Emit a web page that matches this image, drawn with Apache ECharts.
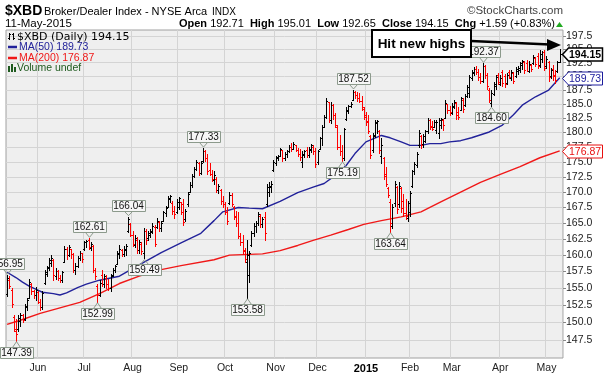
<!DOCTYPE html>
<html>
<head>
<meta charset="utf-8">
<script src="https://cdn.jsdelivr.net/npm/echarts@6/dist/echarts.min.js"></script>
<style>
html, body { margin: 0; padding: 0; background: #fff; }
#chart { width: 604px; height: 376px; }
</style>
</head>
<body>
<div id="chart"></div>
<script>
// daily bars, 12-May-2014 .. 11-May-2015 (252 sessions)
var opens = [
  154.2,156.3,154.8,150.8,148.8,149.0,150.2,151.0,150.5,152.3,
  153.6,155.6,154.6,154.0,154.4,153.0,152.3,155.8,157.2,158.0,
  158.8,159.2,156.8,157.6,156.6,156.2,159.0,161.0,160.0,161.0,
  160.2,157.8,158.4,159.6,160.4,161.0,162.0,162.3,161.1,161.4,
  157.8,155.4,154.0,157.0,155.6,156.6,155.6,155.0,157.0,157.8,
  158.6,160.2,160.8,160.2,160.8,163.8,164.8,163.2,161.6,162.4,
  160.8,161.8,160.4,163.8,162.6,163.2,163.6,164.4,164.4,165.2,
  164.2,165.4,166.6,167.6,168.8,168.3,167.0,166.8,167.6,168.4,
  168.0,165.6,168.0,170.0,171.2,172.6,173.8,174.8,173.2,175.2,
  176.8,175.6,173.6,173.0,172.0,172.2,170.4,170.4,168.6,168.0,
  166.8,168.2,169.6,167.6,166.2,165.0,163.0,162.0,160.8,159.0,
  157.0,161.6,163.4,164.6,165.0,166.2,164.8,166.0,168.0,170.0,
  170.8,173.6,174.8,175.6,176.0,177.0,175.6,176.4,176.8,177.6,
  177.2,177.8,177.0,176.4,175.0,176.2,177.0,176.2,177.0,177.6,
  176.8,175.0,177.2,179.0,181.0,182.8,185.4,182.2,184.8,183.0,
  181.0,177.6,176.8,175.6,182.4,183.8,184.6,185.8,187.2,186.6,
  186.0,185.6,184.2,183.0,182.0,179.4,177.0,179.6,181.6,180.2,
  176.0,175.6,173.0,170.6,168.4,164.6,168.2,170.8,168.0,170.6,
  168.6,166.6,165.8,166.8,171.0,173.4,174.4,177.8,179.4,178.0,
  178.6,180.2,182.2,181.2,181.0,180.4,180.0,181.4,182.2,182.6,
  185.0,184.0,183.4,184.4,185.2,183.6,184.0,185.8,184.8,186.4,
  187.0,189.6,190.6,191.4,190.8,189.8,189.2,191.8,190.2,187.6,
  185.2,186.8,188.2,190.2,188.6,190.8,190.0,188.8,190.8,189.6,
  190.6,190.0,191.0,191.2,192.0,192.6,192.4,191.0,192.0,192.4,
  193.4,193.8,192.0,193.2,194.4,191.8,192.6,190.0,191.4,190.2,
  191.0,192.71
];
var highs = [
  156.95,156.8,155.0,151.0,150.5,151.1,151.4,151.2,152.6,153.6,
  156.4,155.8,154.8,155.2,154.6,153.4,154.6,157.8,158.4,159.6,
  160.0,159.4,158.0,157.8,157.0,157.6,161.4,161.2,161.5,161.0,
  160.4,158.8,159.8,160.6,160.4,162.2,162.4,162.61,162.0,161.5,
  158.0,155.6,156.2,157.7,157.2,157.0,156.4,157.2,158.0,158.5,
  160.7,161.5,161.0,161.4,161.8,166.04,165.0,163.7,163.2,162.8,
  162.4,162.0,164.2,164.0,163.8,164.0,165.0,164.7,165.8,165.4,
  165.4,167.0,167.8,169.4,169.6,168.6,167.8,168.8,169.2,168.4,
  168.9,167.3,170.0,171.6,172.9,174.2,175.4,175.0,175.2,177.33,
  177.0,176.4,174.8,173.7,173.4,172.4,171.4,170.5,169.4,168.4,
  167.6,170.0,169.8,167.8,167.0,166.8,163.4,163.1,161.1,162.3,
  160.7,163.7,165.0,165.3,166.8,166.4,166.0,166.8,171.3,171.6,
  171.8,175.4,176.0,176.2,177.4,177.0,176.6,177.0,177.9,178.2,
  178.4,177.9,177.4,177.1,176.8,177.0,177.6,177.6,178.0,177.8,
  177.4,177.0,179.3,181.3,183.1,186.1,185.4,185.3,185.0,183.4,
  181.3,179.6,177.9,180.8,184.4,184.8,185.3,187.52,187.4,187.2,
  187.0,186.4,184.4,183.6,183.0,179.6,179.9,182.2,182.2,180.5,
  179.0,175.9,174.2,170.9,168.9,168.0,171.8,171.0,171.6,170.8,
  169.7,168.9,168.6,170.2,173.7,174.9,176.7,180.5,179.6,179.8,
  180.5,182.5,182.4,182.0,182.2,182.2,182.5,182.6,182.4,185.7,
  185.0,184.6,185.2,185.7,185.4,184.4,186.3,186.0,186.8,188.4,
  190.2,191.2,191.7,191.8,191.4,190.6,192.37,192.0,190.6,187.8,
  187.5,188.9,190.2,190.6,190.2,191.2,190.4,190.6,191.2,191.2,
  190.8,191.7,191.8,192.6,193.0,192.8,193.0,192.8,192.2,193.9,
  193.6,194.3,194.9,194.6,194.9,193.8,192.8,191.6,192.0,191.2,
  192.8,195.01
];
var lows = [
  153.8,155.0,152.3,148.7,147.39,148.7,149.5,150.0,150.4,151.8,
  153.5,154.2,153.6,153.2,152.8,151.8,152.0,155.6,156.8,157.8,
  158.4,156.3,156.4,156.2,155.9,156.0,158.9,159.4,159.8,159.6,
  157.4,157.2,158.2,159.2,159.0,160.8,161.2,160.9,160.8,157.4,
  156.4,152.99,153.8,155.4,155.2,155.0,154.7,154.6,156.8,157.5,
  158.6,159.6,159.8,159.8,160.0,163.6,162.9,161.4,161.2,160.4,
  160.4,160.2,159.49,161.8,162.4,162.8,163.4,161.4,164.2,163.8,
  163.8,165.3,166.2,167.6,168.4,166.5,165.8,166.6,167.2,166.4,
  164.7,165.3,167.8,170.0,170.9,172.4,173.6,172.8,173.0,175.0,
  175.2,172.9,172.8,171.8,171.4,170.0,169.8,168.1,167.6,166.5,
  164.8,168.1,167.8,165.7,164.5,162.6,161.6,160.2,158.9,153.58,
  156.0,161.4,163.0,163.6,164.7,164.4,164.4,162.3,167.8,169.4,
  170.0,173.5,174.4,175.4,176.0,175.2,175.4,175.8,176.6,176.8,
  177.2,176.8,176.0,175.4,174.2,175.8,175.8,175.8,176.6,176.4,
  174.2,174.6,177.1,177.9,180.9,182.6,181.8,181.7,182.4,181.0,
  177.1,176.2,175.19,175.4,182.2,183.4,184.4,185.7,186.0,185.6,
  185.3,184.0,182.4,181.4,179.9,175.7,176.7,179.3,180.0,176.5,
  174.8,172.1,171.0,169.2,163.64,164.2,167.8,166.6,167.6,166.8,
  166.1,165.7,165.4,166.2,170.9,172.9,174.2,177.6,177.4,177.6,
  178.4,180.0,180.6,180.4,181.0,180.0,179.1,180.8,180.4,182.5,
  183.4,183.0,183.2,184.3,182.4,182.4,183.9,183.6,184.6,186.2,
  186.3,189.3,190.2,190.4,189.4,188.8,189.0,189.6,187.7,185.3,
  184.60,186.6,187.7,188.6,188.4,188.2,188.0,188.6,189.6,189.4,
  188.8,189.8,190.4,190.8,191.4,190.6,190.9,190.8,191.0,192.2,
  191.8,191.5,191.7,192.6,191.2,191.6,189.2,189.6,189.4,188.8,
  190.8,192.65
];
var closes = [
  156.5,155.4,152.6,149.0,148.4,150.6,151.0,150.4,152.4,153.2,
  156.0,154.6,154.0,154.8,153.0,152.2,154.3,157.4,158.2,159.2,
  159.6,157.0,157.6,156.6,156.3,157.4,161.0,160.0,161.2,160.2,
  157.8,158.4,159.6,160.4,159.4,162.0,162.2,161.2,161.8,157.8,
  156.8,154.0,155.8,155.6,156.8,155.6,155.0,156.9,157.8,158.3,
  160.4,161.0,160.2,161.0,161.4,165.6,163.2,161.8,162.6,160.8,
  162.0,160.6,163.8,162.4,163.4,163.8,164.6,161.8,165.4,164.2,
  165.0,166.8,167.4,169.0,169.3,167.0,166.4,168.4,169.0,166.8,
  165.2,166.9,169.7,171.2,172.6,173.8,175.0,173.2,174.8,176.8,
  175.6,173.4,173.0,172.2,172.8,170.4,171.0,168.6,168.0,166.8,
  165.4,169.6,168.0,166.0,165.0,163.0,162.0,160.6,159.4,160.0,
  160.4,163.4,164.6,165.0,166.4,164.8,165.6,163.4,170.8,171.0,
  171.4,175.0,175.8,176.0,177.2,175.6,176.4,176.8,177.6,177.2,
  178.0,177.0,176.4,175.8,176.4,176.8,176.2,177.2,177.8,176.8,
  174.6,176.8,179.0,181.0,182.8,185.6,182.2,184.8,183.0,181.4,
  177.6,176.8,175.6,180.6,184.0,184.6,185.0,187.2,186.6,186.0,
  185.6,184.4,182.8,181.8,180.2,176.2,179.4,181.8,182.0,177.0,
  177.8,172.6,171.4,169.6,165.0,167.6,171.4,167.2,171.0,167.4,
  166.6,166.2,168.2,169.8,173.4,174.6,176.4,180.0,177.8,179.4,
  180.2,182.2,181.0,180.6,181.8,181.9,182.2,182.4,181.4,185.2,
  184.0,183.6,184.6,185.4,183.0,182.8,186.0,184.2,186.4,188.0,
  189.8,190.8,191.4,190.8,189.8,189.2,191.8,190.2,188.2,185.8,
  187.0,188.6,189.8,189.0,189.6,188.8,188.6,190.2,189.8,190.8,
  189.2,191.4,191.6,192.4,192.8,191.2,191.0,192.2,191.4,193.6,
  192.2,191.8,194.2,194.4,191.6,193.2,189.8,191.2,190.0,189.4,
  192.56,194.15
];

// moving averages (bar index, value)
var ma50Idx = [0,4,7,10,14,16,21,24,27,32,36,42,51,60,70,79,88,94,98,105,110,116,124,132,139,144,150,154,158,163,170,174,179,183,188,192,197,201,206,211,219,225,230,234,240,246,251];
var ma50Val = [157.4,156.6,155.9,155.3,154.7,154.4,154.2,154.0,154.3,155.1,155.6,156.2,156.8,158.5,160.4,161.9,163.4,165.4,166.8,167.5,167.4,167.3,168.5,169.9,170.8,171.4,173.0,174.4,176.4,178.4,179.5,179.1,178.4,177.8,177.8,178.1,178.1,178.4,178.6,179.1,180.1,181.3,183.1,184.8,186.3,187.5,189.73];
var ma200Idx = [0,6,15,24,33,42,51,60,70,79,94,101,116,124,132,139,147,155,162,170,179,188,197,206,215,224,233,242,251];
var ma200Val = [149.7,150.3,151.3,152.1,152.9,154.2,155.7,156.8,157.8,158.4,159.3,160.0,160.2,160.7,161.5,162.3,163.1,164.0,164.8,165.4,166.0,166.8,168.4,170.0,171.6,172.9,174.2,175.7,176.87];

// month labels: first session of each month
var monthIdx = [14,35,57,78,99,122,141,163,183,202,224,245];
var monthLbl = ['Jun','Jul','Aug','Sep','Oct','Nov','Dec','2015','Feb','Mar','Apr','May'];

// price axis ticks
var priceTicks = [147.5,150,152.5,155,157.5,160,162.5,165,167.5,170,172.5,175,177.5,180,182.5,185,187.5,190,192.5,195,197.5];

// peak / trough callouts
var noteIdx = [0,4,37,41,55,62,89,109,152,157,174,216,220];
var noteVal = [156.95,147.39,162.61,152.99,166.04,159.49,177.33,153.58,175.19,187.52,163.64,192.37,184.60];
var noteSide = ['up','down','up','down','up','down','up','down','down','up','down','up','down'];

// last-value tags on the right
var tagVal = [194.15,189.73,176.87];
var tagColor = ['#000000','#1c1c9c','#e81010'];

var FONT = '"Liberation Sans", Arial, sans-serif';
var RED = '#ff0000';
var BLACK = '#000000';
var slots = 253; // one empty slot of right padding

var chart = echarts.init(document.getElementById('chart'));

var cats = [];
for (var s = 0; s < slots; s++) cats.push(String(s));

var bars = [];
for (var i = 0; i < closes.length; i++) {
  bars.push([i, opens[i], highs[i], lows[i], closes[i]]);
}
var ma50 = ma50Idx.map(function (d, k) { return [d, ma50Val[k]]; });
var ma200 = ma200Idx.map(function (d, k) { return [d, ma200Val[k]]; });
var notes = noteIdx.map(function (d, k) { return [d, noteVal[k]]; });
var tags = tagVal.map(function (v) { return [closes.length - 1, v]; });

function isMonth(index) {
  return monthIdx.indexOf(index) >= 0;
}

// OHLC bar: high-low line, open tick left, close tick right
function renderBar(params, api) {
  var i = api.value(0);
  var pO = api.coord([i, api.value(1)]);
  var pH = api.coord([i, api.value(2)]);
  var pL = api.coord([i, api.value(3)]);
  var pC = api.coord([i, api.value(4)]);
  var x = Math.round(pO[0]) + 0.5;
  var yo = Math.round(pO[1]) + 0.5;
  var yc = Math.round(pC[1]) + 0.5;
  var col = (i > 0 && closes[i] < closes[i - 1]) ? RED : BLACK;
  var st = { stroke: col, lineWidth: 1 };
  return {
    type: 'group',
    children: [
      { type: 'line', shape: { x1: x, y1: Math.round(pH[1]), x2: x, y2: Math.round(pL[1]) + 1 }, style: st },
      { type: 'line', shape: { x1: x - 1.5, y1: yo, x2: x, y2: yo }, style: st },
      { type: 'line', shape: { x1: x, y1: yc, x2: x + 1.5, y2: yc }, style: st }
    ]
  };
}

function renderNote(params, api) {
  var k = params.dataIndex;
  var p = api.coord([api.value(0), api.value(1)]);
  var up = noteSide[k] === 'up';
  var w = 33, h = 11;
  var cx = Math.round(p[0]) + 0.5;
  var top = up ? Math.round(p[1]) - 6 - h : Math.round(p[1]) + 6;
  var baseY = up ? top + h + 0.5 : top + 0.5;
  var tipY = up ? p[1] - 1 : p[1] + 1;
  return {
    type: 'group',
    children: [
      { type: 'polyline', shape: { points: [[cx - 4, baseY], [cx, tipY], [cx + 4, baseY]] },
        style: { stroke: '#8c9a8c', fill: null, lineWidth: 1 } },
      { type: 'rect', shape: { x: Math.round(cx - w / 2) + 0.5, y: top + 0.5, width: w, height: h },
        style: { fill: '#f6f6f6', stroke: '#8c9a8c', lineWidth: 1 } },
      { type: 'text', x: cx, y: top + h / 2 + 1,
        style: { text: noteVal[k].toFixed(2), fill: '#111', fontSize: 10, fontFamily: FONT, align: 'center', verticalAlign: 'middle' } }
    ]
  };
}

function renderTag(params, api) {
  var k = params.dataIndex;
  var p = api.coord([api.value(0), api.value(1)]);
  var x0 = Math.round(p[0]) + 2.5;
  var y = Math.round(p[1]) + 0.5;
  var col = tagColor[k];
  return {
    type: 'group',
    children: [
      { type: 'polygon', shape: { points: [[x0, y], [x0 + 6, y - 6.5], [x0 + 40, y - 6.5], [x0 + 40, y + 6.5], [x0 + 6, y + 6.5]] },
        style: { fill: '#ffffff', stroke: col, lineWidth: k === 0 ? 1.5 : 1 } },
      { type: 'text', x: x0 + 6.5, y: y + 0.5,
        style: { text: tagVal[k].toFixed(2), fill: col, fontSize: 10.5, fontWeight: k === 0 ? 'bold' : 'normal',
          fontFamily: FONT, align: 'left', verticalAlign: 'middle' } }
    ]
  };
}

function txt(x, y, text, size, color, extra, z) {
  var st = { text: text, fontSize: size, fontFamily: FONT, fill: color, verticalAlign: 'middle', align: 'left' };
  for (var key in extra) st[key] = extra[key];
  return { type: 'text', x: x, y: y, z: z || 100, style: st };
}

var option = {
  animation: false,
  backgroundColor: '#ffffff',
  grid: {
    left: 6, right: 41, top: 30, bottom: 18,
    show: true, backgroundColor: '#efefef', borderColor: '#a0a0a0', borderWidth: 1
  },
  xAxis: {
    type: 'category',
    data: cats,
    axisLine: { show: false },
    axisTick: { show: false },
    axisLabel: {
      interval: isMonth,
      margin: 5,
      color: '#222',
      fontSize: 10.5,
      fontFamily: FONT,
      formatter: function (v, idx) {
        var m = monthIdx.indexOf(idx);
        if (m < 0) return '';
        return monthLbl[m] === '2015' ? '{b|2015}' : monthLbl[m];
      },
      rich: { b: { fontWeight: 'bold', fontSize: 11, fontFamily: FONT, color: '#000' } }
    },
    splitLine: { show: true, interval: isMonth, lineStyle: { color: '#d4d4d4', width: 1 } }
  },
  yAxis: {
    type: 'log',
    position: 'right',
    min: 144.95,
    max: 198.64,
    axisLine: { show: false },
    axisTick: { show: true, length: 3, customValues: priceTicks, lineStyle: { color: '#888' } },
    axisLabel: {
      customValues: priceTicks,
      margin: 3,
      color: '#222',
      fontSize: 10.5,
      fontFamily: FONT,
      formatter: function (v) { return Number(v).toFixed(1); }
    },
    splitLine: { show: true, lineStyle: { color: '#d4d4d4', width: 1 } }
  },
  series: [
    {
      name: 'MA(200)', type: 'line', data: ma200, showSymbol: false, symbol: 'none', z: 2,
      lineStyle: { color: '#f01818', width: 1.4 }, silent: true
    },
    {
      name: 'MA(50)', type: 'line', data: ma50, showSymbol: false, symbol: 'none', z: 2,
      lineStyle: { color: '#22229a', width: 1.4 }, silent: true
    },
    {
      name: '$XBD', type: 'custom', data: bars, renderItem: renderBar, z: 3, clip: true,
      encode: { x: 0, y: [1, 2, 3, 4] }, silent: true
    },
    {
      name: 'notes', type: 'custom', data: notes, renderItem: renderNote, z: 4,
      encode: { x: 0, y: 1 }, silent: true
    },
    {
      name: 'tags', type: 'custom', data: tags, renderItem: renderTag, z: 5,
      encode: { x: 0, y: 1 }, silent: true
    }
  ],
  graphic: [
    txt(5, 11, '$XBD', 14, '#000', { fontWeight: 'bold' }),
    txt(44, 12, 'Broker/Dealer Index - NYSE Arca', 11, '#000'),
    txt(212, 12.5, 'INDX', 10, '#000'),
    txt(563, 11, '\u00a9StockCharts.com', 11.5, '#444', { align: 'right' }),
    txt(5, 24, '11-May-2015', 11.5, '#000'),
    {
      type: 'text', x: 555, y: 24, z: 100,
      style: {
        text: '{b|Open} 192.71  {b|High} 195.01  {b|Low} 192.65  {b|Close} 194.15  {b|Chg} +1.59 (+0.83%)',
        fontSize: 11, fontFamily: FONT, fill: '#000', align: 'right', verticalAlign: 'middle',
        rich: { b: { fontWeight: 'bold', fontSize: 11, fontFamily: FONT } }
      }
    },
    { type: 'polygon', z: 100, shape: { points: [[556, 27], [563, 27], [559.5, 22]] }, style: { fill: '#22aa22' } },

    // legend inside the plot
    { type: 'line', z: 100, shape: { x1: 9.5, y1: 33, x2: 9.5, y2: 40 }, style: { stroke: '#000', lineWidth: 1 } },
    { type: 'line', z: 100, shape: { x1: 8, y1: 38.5, x2: 9.5, y2: 38.5 }, style: { stroke: '#000', lineWidth: 1 } },
    { type: 'line', z: 100, shape: { x1: 9.5, y1: 34.5, x2: 11, y2: 34.5 }, style: { stroke: '#000', lineWidth: 1 } },
    { type: 'line', z: 100, shape: { x1: 13.5, y1: 33, x2: 13.5, y2: 40 }, style: { stroke: '#000', lineWidth: 1 } },
    { type: 'line', z: 100, shape: { x1: 12, y1: 34.5, x2: 13.5, y2: 34.5 }, style: { stroke: '#000', lineWidth: 1 } },
    { type: 'line', z: 100, shape: { x1: 13.5, y1: 38.5, x2: 15, y2: 38.5 }, style: { stroke: '#000', lineWidth: 1 } },
    txt(17, 37, '$XBD (Daily) 194.15', 11, '#000', { fontFamily: '"DejaVu Sans", sans-serif' }),
    { type: 'line', z: 100, shape: { x1: 8, y1: 47, x2: 17, y2: 47 }, style: { stroke: '#22229a', lineWidth: 2.5 } },
    txt(19, 47.5, 'MA(50) 189.73', 10.5, '#22229a'),
    { type: 'line', z: 100, shape: { x1: 8, y1: 58, x2: 17, y2: 58 }, style: { stroke: '#f01818', lineWidth: 2.5 } },
    txt(19, 58.5, 'MA(200) 176.87', 10.5, '#f01818'),
    { type: 'rect', z: 100, shape: { x: 8, y: 66, width: 2, height: 6 }, style: { fill: '#1e5a1e' } },
    { type: 'rect', z: 100, shape: { x: 11, y: 64, width: 2, height: 8 }, style: { fill: '#1e5a1e' } },
    { type: 'rect', z: 100, shape: { x: 14, y: 67, width: 2, height: 5 }, style: { fill: '#1e5a1e' } },
    txt(17, 68.5, 'Volume undef', 10.5, '#1e5a1e'),

    // annotation box and arrow
    { type: 'rect', z: 110, shape: { x: 372, y: 30, width: 99, height: 27 }, style: { fill: '#ffffff', stroke: '#000', lineWidth: 2 } },
    txt(421.5, 44, 'Hit new highs', 13.5, '#000', { fontWeight: 'bold', align: 'center' }, 120),
    { type: 'line', z: 110, shape: { x1: 471, y1: 41, x2: 550, y2: 44.5 }, style: { stroke: '#000', lineWidth: 2.6 } },
    { type: 'polygon', z: 110, shape: { points: [[547, 39], [561, 45], [547, 51]] }, style: { fill: '#000' } }
  ]
};

chart.setOption(option);
window.addEventListener('resize', function () {
  chart.resize();
});
</script>
</body>
</html>
